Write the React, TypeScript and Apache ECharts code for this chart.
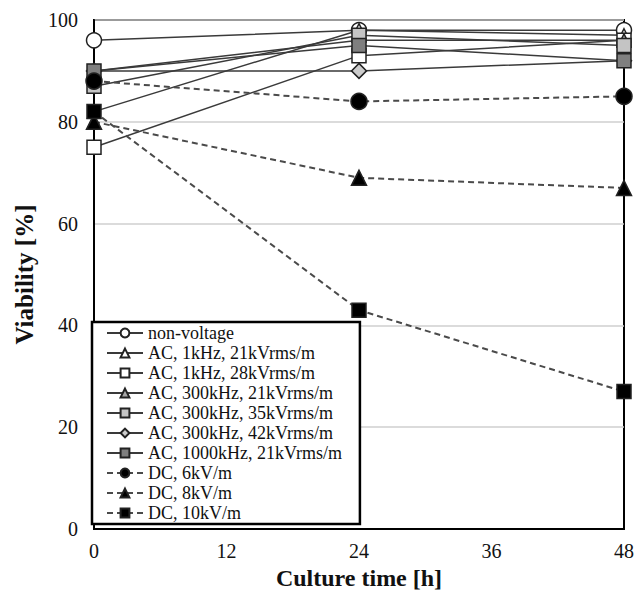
import React, { useEffect, useRef } from "react";
import * as echarts from "echarts";

const times = [0, 24, 48];
const xTicks = [0, 12, 24, 36, 48];
const yTicks = [0, 20, 40, 60, 80, 100];

const seriesNames = [
  "non-voltage",
  "AC, 1kHz, 21kVrms/m",
  "AC, 1kHz, 28kVrms/m",
  "AC, 300kHz, 21kVrms/m",
  "AC, 300kHz, 35kVrms/m",
  "AC, 300kHz, 42kVrms/m",
  "AC, 1000kHz, 21kVrms/m",
  "DC, 6kV/m",
  "DC, 8kV/m",
  "DC, 10kV/m",
];

const nonVoltage = [96, 98, 98];
const ac1k21 = [82, 98, 97];
const ac1k28 = [75, 93, 96];
const ac300k21 = [90, 96, 96];
const ac300k35 = [87, 97, 95];
const ac300k42 = [90, 90, 92];
const ac1000k21 = [90, 95, 92];
const dc6 = [88, 84, 85];
const dc8 = [80, 69, 67];
const dc10 = [82, 43, 27];

const seriesValues = [nonVoltage, ac1k21, ac1k28, ac300k21, ac300k35, ac300k42, ac1000k21, dc6, dc8, dc10];

const styles = [
  { symbol: "circle", size: 15, fill: "#ffffff", dashed: false },
  { symbol: "triangle", size: 13, fill: "#ffffff", dashed: false },
  { symbol: "rect", size: 14, fill: "#ffffff", dashed: false },
  { symbol: "triangle", size: 13, fill: "#a8a8a8", dashed: false },
  { symbol: "rect", size: 14, fill: "#c4c4c4", dashed: false },
  { symbol: "diamond", size: 15, fill: "#cccccc", dashed: false },
  { symbol: "rect", size: 14, fill: "#7f7f7f", dashed: false },
  { symbol: "circle", size: 16, fill: "#000000", dashed: true },
  { symbol: "triangle", size: 15, fill: "#000000", dashed: true },
  { symbol: "rect", size: 14, fill: "#000000", dashed: true },
];

const FONT = "'Liberation Serif', 'Times New Roman', serif";

export default function App() {
  const ref = useRef<HTMLDivElement>(null);
  useEffect(() => {
    document.body.style.margin = "0";
    if (!ref.current) return;
    const chart = echarts.init(ref.current, null, { renderer: "svg" });
    const series = seriesNames.map((name, i) => {
      const s = styles[i];
      return {
        name,
        type: "line",
        data: times.map((t, j) => [t, seriesValues[i][j]]),
        symbol: s.symbol,
        symbolSize: s.size,
        clip: false,
        lineStyle: {
          color: s.dashed ? "#4a4a4a" : "#3a3a3a",
          width: s.dashed ? 2 : 1.5,
          type: s.dashed ? [6, 4] : "solid",
        },
        itemStyle: {
          color: s.fill,
          borderColor: "#222222",
          borderWidth: 1.5,
        },
        z: 2 + i,
      };
    });
    chart.setOption({
      animation: false,
      backgroundColor: "#ffffff",
      textStyle: { fontFamily: FONT },
      grid: {
        left: 94,
        right: 13,
        top: 20,
        bottom: 68,
        show: true,
        borderColor: "#000000",
        borderWidth: 2,
        backgroundColor: "transparent",
      },
      legend: {
        orient: "vertical",
        left: 92,
        top: 322,
        padding: [2, 18, 2, 14],
        itemWidth: 36,
        itemHeight: 11,
        itemGap: 2,
        borderColor: "#000000",
        borderWidth: 2.5,
        backgroundColor: "#ffffff",
        data: seriesNames,
        textStyle: { fontFamily: FONT, fontSize: 18, color: "#111111", lineHeight: 18 },
        z: 20,
      },
      xAxis: {
        type: "value",
        min: xTicks[0],
        max: xTicks[xTicks.length - 1],
        interval: 12,
        name: "Culture time [h]",
        nameLocation: "middle",
        nameGap: 33,
        nameTextStyle: { fontFamily: FONT, fontSize: 24, fontWeight: "bold", color: "#111111" },
        axisLine: { show: true, lineStyle: { color: "#000000", width: 2 } },
        axisTick: { show: false },
        splitLine: { show: false },
        axisLabel: { fontFamily: FONT, fontSize: 20, color: "#111111", margin: 12 },
      },
      yAxis: {
        type: "value",
        min: yTicks[0],
        max: yTicks[yTicks.length - 1],
        interval: 20,
        name: "Viability [%]",
        nameLocation: "middle",
        nameGap: 54,
        nameTextStyle: { fontFamily: FONT, fontSize: 25, fontWeight: "bold", color: "#111111" },
        axisLine: { show: true, lineStyle: { color: "#000000", width: 2 } },
        axisTick: { show: false },
        splitLine: { show: true, lineStyle: { color: "#cfcfcf", width: 1.5 } },
        axisLabel: { fontFamily: FONT, fontSize: 20, color: "#111111", margin: 16 },
      },
      series,
    });
    return () => chart.dispose();
  }, []);
  return <div ref={ref} style={{ width: 637, height: 597 }} />;
}
